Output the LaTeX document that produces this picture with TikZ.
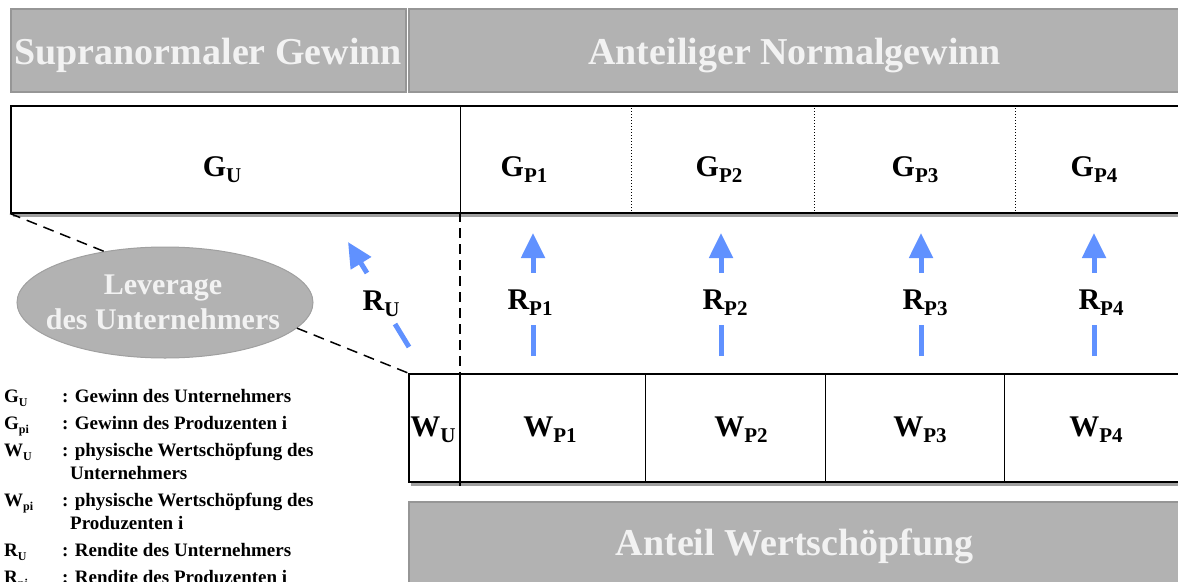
\documentclass[tikz,border=0pt]{standalone}
\usepackage{fontspec}
\setmainfont{Liberation Serif}
\usetikzlibrary{arrows.meta,shapes.geometric}
\definecolor{bannerfill}{RGB}{178,178,178}
\definecolor{bannerdraw}{RGB}{150,150,150}
\definecolor{bannertext}{RGB}{242,242,242}
\definecolor{ellipsedraw}{RGB}{160,160,160}
\definecolor{shadowgray}{RGB}{160,160,160}
\definecolor{arrowblue}{RGB}{96,145,255}
\newcommand\lblsub[2]{#1\raisebox{-6pt}{\fontsize{21}{21}\selectfont #2}}
\newcommand\legsub[2]{#1\raisebox{-4pt}{\fontsize{12}{12}\selectfont #2}}
\begin{document}
\begin{tikzpicture}[x=1pt,y=-1pt,
  banner/.style={draw=bannerdraw,line width=1.5pt,fill=bannerfill,text=bannertext,
    font=\fontsize{38}{38}\selectfont\bfseries,inner sep=0pt,anchor=north west,
    text height=25pt,text depth=0pt},
  rowbox/.style={draw,line width=1.5pt,fill=white,anchor=north west,inner sep=0pt},
  celldiv/.style={line width=1pt},
  dotdiv/.style={line width=1pt,dash pattern=on 1pt off 2pt},
  dashline/.style={line width=1.5pt,dash pattern=on 11pt off 7pt},
  vdash/.style={line width=1.5pt,dash pattern=on 10pt off 6pt},
  big/.style={font=\fontsize{30}{30}\selectfont\bfseries,inner sep=0pt},
  rlabel/.style={big,text height=22pt,text depth=2pt,minimum height=52pt},
  shaft/.style={draw=arrowblue,line width=5pt},
  arr/.style={draw=arrowblue,line width=5pt,-{Triangle[length=25pt,width=23pt]}},
  leg/.style={font=\fontsize{19}{19}\selectfont\bfseries,anchor=base west,inner sep=0pt}
]
\useasboundingbox (0,0) rectangle (1178,581);

% banners
\node[banner,minimum width=395pt,minimum height=83pt,text height=28pt] (b1) at (10,8) {Supranormaler Gewinn};
\node[banner,minimum width=772pt,minimum height=83pt,text height=28pt] (b2) at (408,8) {Anteiliger Normalgewinn};
\node[banner,minimum width=772pt,minimum height=83pt] (b3) at (408,501) {Anteil Wertschöpfung};

% G row
\fill[shadowgray] (13,110) rectangle (1182,217);
\node[rowbox,minimum width=1172pt,minimum height=107pt] (grow) at (10,105) {};
\draw[celldiv] (460,105) -- (460,212);
\draw[dotdiv] (631,105) -- (631,212);
\draw[dotdiv] (814,105) -- (814,212);
\draw[dotdiv] (1015,105) -- (1015,212);

% W row
\fill[shadowgray] (411,378) rectangle (1182,486);
\node[rowbox,minimum width=774pt,minimum height=108pt] (wrow) at (408,373) {};
\draw[celldiv] (645,373) -- (645,481);
\draw[celldiv] (825,373) -- (825,481);
\draw[celldiv] (1004,373) -- (1004,481);
\draw[vdash] (460,212) -- (460,373);
\draw[line width=1.5pt] (460,373) -- (460,486);

% G labels
\node[big,anchor=base] (gu) at (222,176) {\lblsub{G}{U}};
\node[big,anchor=base] (gp1) at (524,176) {\lblsub{G}{P1}};
\node[big,anchor=base] (gp2) at (719,176) {\lblsub{G}{P2}};
\node[big,anchor=base] (gp3) at (915,176) {\lblsub{G}{P3}};
\node[big,anchor=base] (gp4) at (1094,176) {\lblsub{G}{P4}};

% W labels
\node[big,anchor=base] (wu) at (433,436) {\lblsub{W}{U}};
\node[big,anchor=base] (wp1) at (550,436) {\lblsub{W}{P1}};
\node[big,anchor=base] (wp2) at (741,436) {\lblsub{W}{P2}};
\node[big,anchor=base] (wp3) at (920,436) {\lblsub{W}{P3}};
\node[big,anchor=base] (wp4) at (1096,436) {\lblsub{W}{P4}};

% R labels and arrows
\node[rlabel] (r1) at (530,299) {\lblsub{R}{P1}};
\node[rlabel] (r2) at (725,299) {\lblsub{R}{P2}};
\node[rlabel] (r3) at (925,299) {\lblsub{R}{P3}};
\node[rlabel] (r4) at (1101,299) {\lblsub{R}{P4}};
\coordinate (s1) at (533,356); \coordinate (t1) at (533,233);
\coordinate (s2) at (721,356); \coordinate (t2) at (721,233);
\coordinate (s3) at (921,356); \coordinate (t3) at (921,233);
\coordinate (s4) at (1094,356); \coordinate (t4) at (1094,233);
\foreach \i in {1,2,3,4}{
  \draw[shaft] (s\i) -- (s\i |- r\i.south);
  \draw[arr] (t\i |- r\i.north) -- (t\i);
}
\node[big,anchor=base] (ru) at (381,310) {\lblsub{R}{U}};
\coordinate (ru1) at (409,347);
\coordinate (ru2) at (395,324);
\coordinate (ru3) at (367,273);
\coordinate (ru4) at (348,242);
\draw[shaft] (ru1) -- (ru2);
\draw[arr] (ru3) -- (ru4);

% ellipse
\node[ellipse,draw=ellipsedraw,fill=bannerfill,line width=1pt,minimum width=296pt,minimum height=111pt,inner sep=0pt] (lev) at (165,302.5) {};
\node[font=\fontsize{30}{35}\selectfont\bfseries,text=bannertext,align=center,inner sep=0pt] (levtxt) at (163,302.5) {Leverage\\des Unternehmers};
\draw[dashline] (grow.south west) -- (lev.140);
\draw[dashline] (lev.-11) -- (wrow.north west);

% legend
\node[leg] (l1s) at (4,402) {\legsub{G}{U}};
\node[leg] (l1t) at (62,402) {: Gewinn des Unternehmers};
\node[leg] (l2s) at (4,429) {\legsub{G}{pi}};
\node[leg] (l2t) at (62,429) {: Gewinn des Produzenten i};
\node[leg] (l3s) at (4,456) {\legsub{W}{U}};
\node[leg] (l3t) at (62,456) {: physische Wertschöpfung des};
\node[leg] (l3u) at (70,479) {Unternehmers};
\node[leg] (l4s) at (4,506) {\legsub{W}{pi}};
\node[leg] (l4t) at (62,506) {: physische Wertschöpfung des};
\node[leg] (l4u) at (70,529) {Produzenten i};
\node[leg] (l5s) at (4,556) {\legsub{R}{U}};
\node[leg] (l5t) at (62,556) {: Rendite des Unternehmers};
\node[leg] (l6s) at (4,583) {\legsub{R}{pi}};
\node[leg] (l6t) at (62,583) {: Rendite des Produzenten i};
\end{tikzpicture}
\end{document}
